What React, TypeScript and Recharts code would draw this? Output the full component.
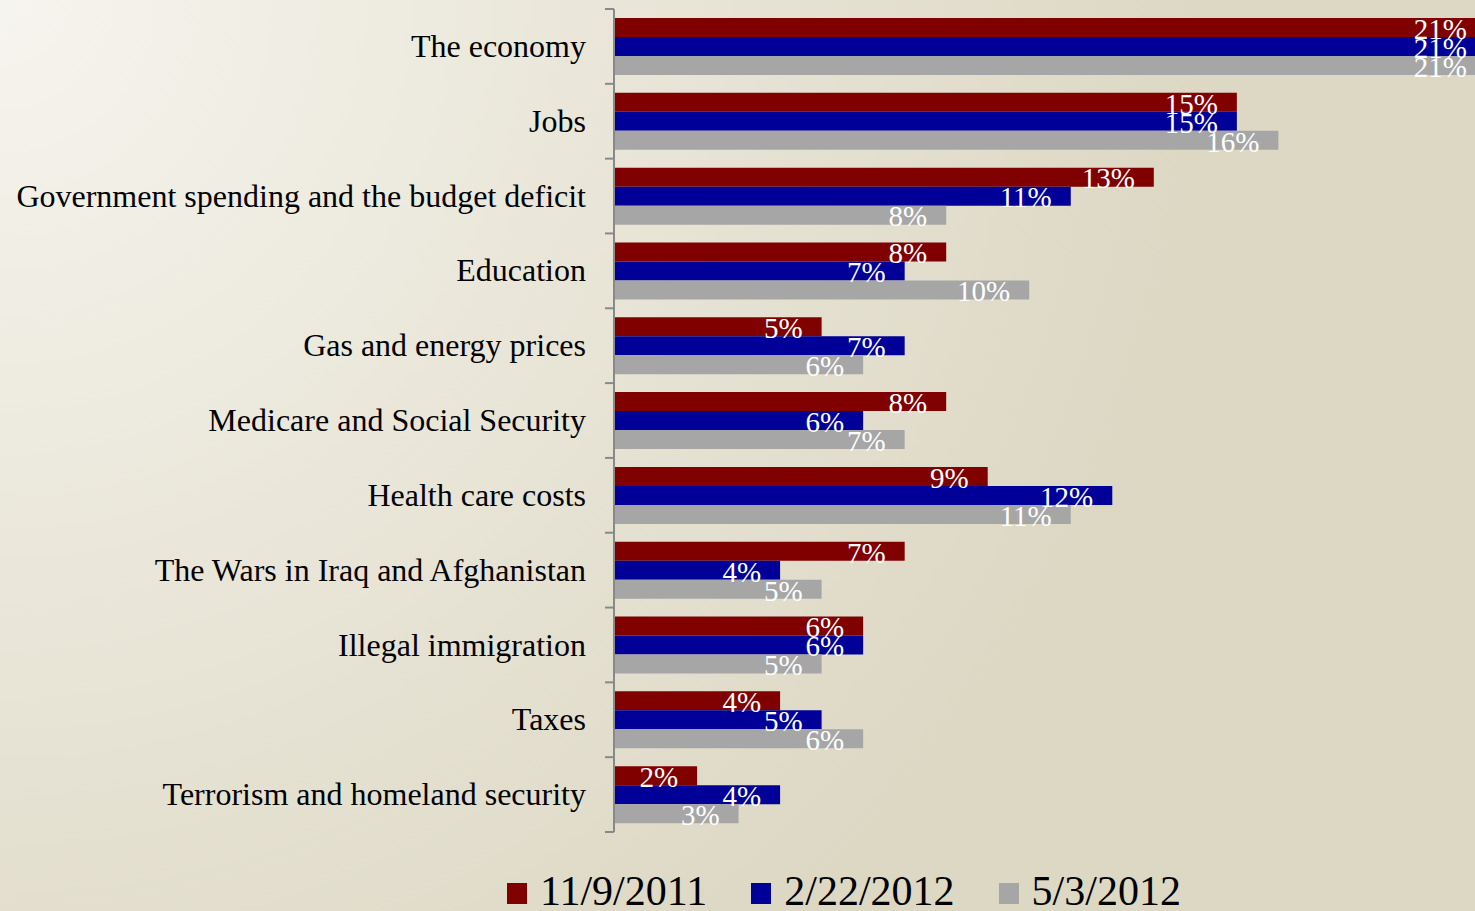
import { BarChart, Bar, XAxis, YAxis, LabelList } from "recharts";

const categories = [
  "The economy",
  "Jobs",
  "Government spending and the budget deficit",
  "Education",
  "Gas and energy prices",
  "Medicare and Social Security",
  "Health care costs",
  "The Wars in Iraq and Afghanistan",
  "Illegal immigration",
  "Taxes",
  "Terrorism and homeland security",
];

const nov2011 = [21, 15, 13, 8, 5, 8, 9, 7, 6, 4, 2];
const feb2012 = [21, 15, 11, 7, 7, 6, 12, 4, 6, 5, 4];
const may2012 = [21, 16, 8, 10, 6, 7, 11, 5, 5, 6, 3];

const series = [
  { key: "nov2011", name: "11/9/2011", color: "#800000" },
  { key: "feb2012", name: "2/22/2012", color: "#000099" },
  { key: "may2012", name: "5/3/2012", color: "#a6a6a6" },
];

const data = categories.map((name, i) => ({
  name,
  nov2011: nov2011[i],
  feb2012: feb2012[i],
  may2012: may2012[i],
}));

const FONT = '"Liberation Serif", "Times New Roman", serif';
const PLOT_TOP = 9;
const PLOT_BOTTOM = 832;
const AXIS_X = 614;
const BAND = (PLOT_BOTTOM - PLOT_TOP) / categories.length;

function CategoryTick(props: any) {
  const { y, payload, index } = props;
  const last = index === categories.length - 1;
  return (
    <g>
      <line x1={AXIS_X - 9} x2={AXIS_X} y1={y - BAND / 2} y2={y - BAND / 2} stroke="#898989" strokeWidth={2} />
      {last && (
        <line x1={AXIS_X - 9} x2={AXIS_X} y1={y + BAND / 2} y2={y + BAND / 2} stroke="#898989" strokeWidth={2} />
      )}
      <text
        x={AXIS_X - 28}
        y={y}
        dy="0.33em"
        textAnchor="end"
        fontFamily={FONT}
        fontSize={32}
        fill="#000"
      >
        {payload.value}
      </text>
    </g>
  );
}

export default function App() {
  return (
    <div
      style={{
        position: "absolute",
        left: 0,
        top: 0,
        width: 1475,
        height: 911,
        overflow: "hidden",
        background: "radial-gradient(circle at 0 0, #f6f4ee 0px, #ddd8c4 1200px)",
      }}
    >
      <BarChart
        width={1500}
        height={840}
        data={data}
        layout="vertical"
        margin={{ top: PLOT_TOP, right: 14, left: 0, bottom: 840 - PLOT_BOTTOM }}
        barCategoryGap={9}
        barGap={0}
      >
        <XAxis type="number" domain={[0, 21]} hide />
        <YAxis
          type="category"
          dataKey="name"
          width={AXIS_X}
          axisLine={{ stroke: "#898989", strokeWidth: 2 }}
          tickLine={false}
          tick={<CategoryTick />}
          interval={0}
        />
        {series.map((s) => (
          <Bar key={s.key} dataKey={s.key} name={s.name} fill={s.color} isAnimationActive={false}>
            <LabelList
              dataKey={s.key}
              position="insideRight"
              offset={19}
              formatter={(v: any) => `${v}%`}
              fill="#ffffff"
              style={{ fontFamily: FONT, fontSize: 29 }}
              dy={1}
            />
          </Bar>
        ))}
      </BarChart>
      <div
        style={{
          position: "absolute",
          left: 507,
          top: 871,
          display: "flex",
          gap: 44,
          fontFamily: FONT,
          fontSize: 42,
          lineHeight: "41px",
          whiteSpace: "nowrap",
        }}
      >
        {series.map((s) => (
          <div key={s.key} style={{ display: "flex", alignItems: "flex-start" }}>
            <span
              style={{ width: 20, height: 21, marginTop: 12, marginRight: 13, background: s.color, display: "inline-block" }}
            />
            <span>{s.name}</span>
          </div>
        ))}
      </div>
    </div>
  );
}
